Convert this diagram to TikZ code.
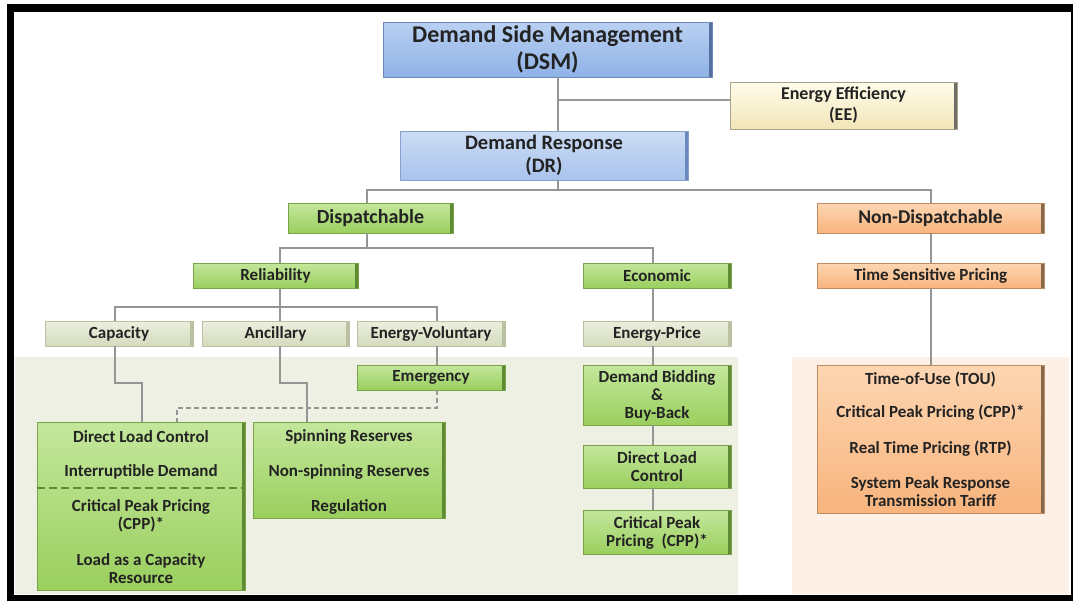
\documentclass[tikz,border=0pt]{standalone}
\usepackage{fontspec}
\setmainfont{Carlito}
\definecolor{txt}{HTML}{232323}
\definecolor{ln}{HTML}{959595}
\definecolor{btop}{HTML}{B9D0F2}
\definecolor{bbot}{HTML}{8FB2E6}
\definecolor{bedge}{HTML}{6A88BC}
\definecolor{bdark}{HTML}{55709E}
\definecolor{dtop}{HTML}{CCDCF4}
\definecolor{dbot}{HTML}{A8C3EC}
\definecolor{dedge}{HTML}{86A2CC}
\definecolor{etop}{HTML}{FFFCEA}
\definecolor{ebot}{HTML}{F2E5B8}
\definecolor{eedge}{HTML}{A9A38C}
\definecolor{edark}{HTML}{6E6E66}
\definecolor{gtop}{HTML}{C4E79C}
\definecolor{gbot}{HTML}{9ACF5E}
\definecolor{gedge}{HTML}{78A346}
\definecolor{gdark}{HTML}{5E8A34}
\definecolor{ltop}{HTML}{EBF0DE}
\definecolor{lbot}{HTML}{D4DBBE}
\definecolor{ledge}{HTML}{BAC1A2}
\definecolor{otop}{HTML}{FDD6B2}
\definecolor{obot}{HTML}{F8B47D}
\definecolor{oedge}{HTML}{BE8C60}
\definecolor{odark}{HTML}{86684C}
\definecolor{bgl}{HTML}{EEF0E3}
\definecolor{bgr}{HTML}{FCF0E7}
\tikzset{
  box/.style={rectangle, inner sep=0pt, align=center, text=txt, line width=0.8pt,
    font=\bfseries\fontsize{17}{18}\selectfont},
  redge/.style={path picture={\fill[#1] ([xshift=-3pt]path picture bounding box.north east) rectangle (path picture bounding box.south east);}},
  bluebox/.style={box, top color=btop, bottom color=bbot, draw=bedge, redge=bdark},
  drbox/.style={box, top color=dtop, bottom color=dbot, draw=dedge, redge=bedge},
  eebox/.style={box, top color=etop, bottom color=ebot, draw=eedge, redge=edark},
  greenbox/.style={box, top color=gtop, bottom color=gbot, draw=gedge, redge=gdark},
  lightbox/.style={box, top color=ltop, bottom color=lbot, draw=ledge, redge=ledge},
  orangebox/.style={box, top color=otop, bottom color=obot, draw=oedge, redge=odark},
  lbl/.style={inner sep=0pt, align=center, text=txt, font=\bfseries\fontsize{17}{18}\selectfont},
  conn/.style={draw=ln, line width=2pt},
  dconn/.style={draw=ln, line width=1.6pt, dash pattern=on 5pt off 3pt},
}
\begin{document}
\begin{tikzpicture}[x=1pt,y=-1pt]
\useasboundingbox (0,0) rectangle (1075,603);
% frame
\fill[black] (7,4) rectangle (1073,601);
\fill[white] (14,12) rectangle (1071,595);
% background regions
\fill[bgl] (15,357) rectangle (738,594);
\fill[bgr] (792,357) rectangle (1069,594);

% named connector coordinates
\coordinate (t1) at (558,100);
\coordinate (t2) at (558,190);
\coordinate (t3) at (367,248);
\coordinate (t4) at (280,307);

% top level
\node[bluebox, minimum width=329, minimum height=55, font=\bfseries\fontsize{24}{27}\selectfont]
  (dsm) at (547.5,49.5) {Demand Side Management\\(DSM)};
\node[eebox, minimum width=227, minimum height=47, font=\bfseries\fontsize{18}{21}\selectfont]
  (ee) at (843.5,105.5) {Energy Efficiency\\(EE)};
\node[drbox, minimum width=288, minimum height=49, font=\bfseries\fontsize{20.5}{23}\selectfont]
  (dr) at (544,155.5) {Demand Response\\(DR)};

\node[greenbox, minimum width=165, minimum height=30, font=\bfseries\fontsize{20}{22}\selectfont]
  (disp) at (370.5,218) {Dispatchable};
\node[orangebox, minimum width=227, minimum height=30, font=\bfseries\fontsize{19.5}{22}\selectfont]
  (nondisp) at (930.5,218) {Non-Dispatchable};

\node[greenbox, minimum width=165, minimum height=25] (rel) at (275.5,275.5) {Reliability};
\node[greenbox, minimum width=148, minimum height=25] (econ) at (657,275.5) {Economic};
\node[orangebox, minimum width=227, minimum height=25] (tsp) at (930.5,275.5) {Time Sensitive Pricing};

\node[lightbox, minimum width=148, minimum height=25] (cap) at (119,333.5) {Capacity};
\node[lightbox, minimum width=147, minimum height=25] (anc) at (275.5,333.5) {Ancillary};
\node[lightbox, minimum width=148, minimum height=25] (ev) at (431,333.5) {Energy-Voluntary};
\node[lightbox, minimum width=148, minimum height=25] (ep) at (657,333.5) {Energy-Price};

\node[greenbox, minimum width=148, minimum height=25] (emer) at (431,377.5) {Emergency};

% program boxes
\node[greenbox, minimum width=208, minimum height=168] (capbox) at (141,506) {};
\node[greenbox, minimum width=192, minimum height=96] (ancbox) at (349,470) {};
\node[greenbox, minimum width=148, minimum height=60] (dbb) at (657,395) {};
\node[greenbox, minimum width=148, minimum height=43] (dlc) at (657,466.5) {};
\node[greenbox, minimum width=148, minimum height=44] (cpp) at (657,532) {};
\node[orangebox, minimum width=227, minimum height=148] (orbox) at (930.5,439) {};

\draw[draw=gdark, line width=1.6pt, dash pattern=on 8pt off 4pt] (capbox.west |- 0,488) -- (capbox.east |- 0,488);

% labels in program boxes
\node[lbl] (c1) at (141,437) {Direct Load Control};
\node[lbl] (c2) at (141,472) {Interruptible Demand};
\node[lbl] (c3) at (141,516) {Critical Peak Pricing\\(CPP)*};
\node[lbl] (c4) at (141,569) {Load as a Capacity\\Resource};
\node[lbl] (a1) at (349,437) {Spinning Reserves};
\node[lbl] (a2) at (349,472) {Non-spinning Reserves};
\node[lbl] (a3) at (349,507) {Regulation};
\node[lbl] (d1) at (657,396) {Demand Bidding\\\&\\Buy-Back};
\node[lbl] (d2) at (657,467) {Direct Load\\Control};
\node[lbl] (d3) at (657,533) {Critical Peak\\Pricing~~(CPP)*};
\node[lbl] (o1) at (930.5,379) {Time-of-Use (TOU)};
\node[lbl] (o2) at (930.5,413) {Critical Peak Pricing (CPP)*};
\node[lbl] (o3) at (930.5,449) {Real Time Pricing (RTP)};
\node[lbl] (o4) at (930.5,492) {System Peak Response\\Transmission Tariff};

% connectors
\draw[conn] (dsm.south -| t1) -- (dr.north -| t1);
\draw[conn] (t1) -- (ee.west |- t1);
\draw[conn] (dr.south -| t2) -- (t2);
\draw[conn] (disp.north -| t3) -- (t3 |- t2) -- (nondisp.north |- t2) -- (nondisp.north);
\draw[conn] (disp.south -| t3) -- (t3);
\draw[conn] (rel.north -| t4) -- (t4 |- t3) -- (653,248) -- (econ.north -| 653,0);
\draw[conn] (nondisp.south) -- (tsp.north);
\draw[conn] (rel.south -| t4) -- (t4);
\draw[conn] (cap.north -| 115,0) -- (115,307) -- (437,307) -- (ev.north -| 437,0);
\draw[conn] (t4) -- (anc.north -| t4);
\draw[conn] (cap.south -| 115,0) -- (115,383) -- (142,383) -- (capbox.north -| 142,0);
\draw[conn] (anc.south -| t4) -- (280,383) -- (307,383) -- (ancbox.north -| 307,0);
\draw[conn] (ev.south -| 437,0) -- (emer.north -| 437,0);
\draw[dconn] (emer.south -| 437,0) -- (437,408) -- (177,408) -- (capbox.north -| 177,0);
\draw[conn] (econ.south -| 653,0) -- (ep.north -| 653,0);
\draw[conn] (ep.south -| 653,0) -- (dbb.north -| 653,0);
\draw[conn] (dbb.south -| 653,0) -- (dlc.north -| 653,0);
\draw[conn] (dlc.south -| 653,0) -- (cpp.north -| 653,0);
\draw[conn] (tsp.south) -- (orbox.north);
\end{tikzpicture}
\end{document}
